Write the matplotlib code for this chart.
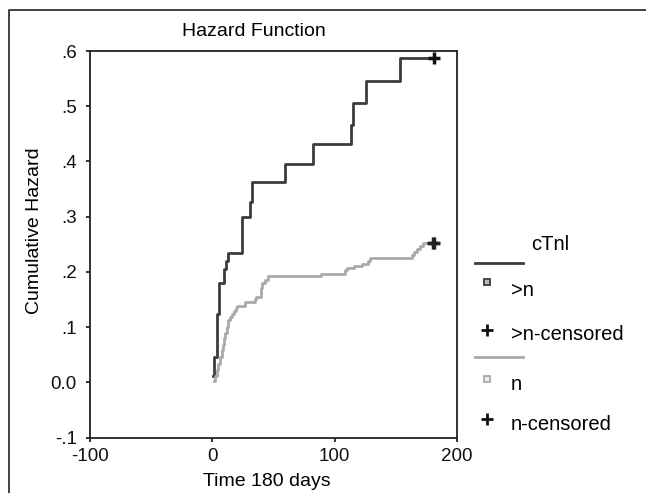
import matplotlib
matplotlib.use("Agg")
import matplotlib.pyplot as plt
from matplotlib.lines import Line2D

plt.rcParams['font.family'] = ['Liberation Sans', 'DejaVu Sans']

# Data: cumulative hazard step functions (time in days)
high_t = [0.8, 1.5, 3.5, 5.5, 9.5, 11.0, 13.0, 24.5, 31.0, 32.7, 59.7, 82.6, 113.0, 115.0, 126.0, 153.0, 181.0]
high_h = [0.012, 0.046, 0.124, 0.179, 0.205, 0.220, 0.235, 0.300, 0.327, 0.362, 0.395, 0.431, 0.466, 0.505, 0.546, 0.587, 0.587]
high_cens_t = [181.0]
high_cens_h = [0.587]

norm_t = [1.5, 2.2, 3.5, 5.0, 6.5, 7.5, 8.5, 9.5, 10.5, 11.8, 12.5, 14.5, 16.0, 17.5, 19.0, 20.0,
          26.7, 34.5, 35.5, 39.5, 40.5, 43.0, 45.8, 89.0, 108.5, 110.0, 116.0, 122.0, 127.0, 129.0,
          163.0, 165.0, 167.5, 170.0, 172.6, 181.0]
norm_h = [0.002, 0.012, 0.022, 0.034, 0.046, 0.058, 0.068, 0.080, 0.090, 0.100, 0.113, 0.119, 0.124, 0.130, 0.135, 0.138,
          0.145, 0.150, 0.155, 0.170, 0.180, 0.186, 0.193, 0.197, 0.203, 0.207, 0.211, 0.215, 0.219, 0.2246,
          0.230, 0.236, 0.242, 0.247, 0.252, 0.252]
norm_cens_t = [180.0, 181.0]
norm_cens_h = [0.252, 0.252]

x_ticks = [-100, 0, 100, 200]
y_ticks = [-0.1, 0.0, 0.1, 0.2, 0.3, 0.4, 0.5, 0.6]
y_ticklabels = ['-.1', '0.0', '.1', '.2', '.3', '.4', '.5', '.6']

legend_title = 'cTnl'
legend_labels = ['>n', '>n-censored', 'n', 'n-censored']

dark = '#3a3c3f'
gray = '#aaaaaa'

W, H = 646, 493
fig = plt.figure(figsize=(W / 100, H / 100), dpi=100)
ax = fig.add_axes([90 / W, 1 - 437.5 / H, (457 - 90) / W, (437.5 - 51) / H])

ax.step(high_t, high_h, where='post', color=dark, lw=2.0)
ax.step(norm_t, norm_h, where='post', color=gray, lw=2.0)
ax.plot(high_cens_t, high_cens_h, ls='none', marker='+', ms=9, mew=2.5, color='#111111')
ax.plot(norm_cens_t, norm_cens_h, ls='none', marker='+', ms=9, mew=2.5, color='#222222')

ax.set_xlim(-100, 200)
ax.set_ylim(-0.1, 0.6)
ax.set_xticks(x_ticks)
ax.set_xticklabels([str(v) for v in x_ticks])
ax.set_yticks(y_ticks)
ax.set_yticklabels(y_ticklabels)
ax.tick_params(direction='out', length=3, width=1.2, labelsize=13.5, colors='#111111')
ax.tick_params(axis='y', pad=6.5)
ax.tick_params(axis='x', pad=4.5)
for s in ax.spines.values():
    s.set_linewidth(1.3)
    s.set_color('#222222')

# titles / labels
fig.text(254 / W, 1 - 31 / H, 'Hazard Function', ha='center', va='center', fontsize=14)
fig.text(35 / W, 1 - 231 / H, 'Cumulative Hazard', ha='center', va='center', rotation=90, fontsize=14)
fig.text(267 / W, 1 - 481 / H, 'Time 180 days', ha='center', va='center', fontsize=14)

# outer frame (left and top edges)
fig.add_artist(Line2D([9 / W, 9 / W, 1.0], [0.0, 1 - 10 / H, 1 - 10 / H], transform=fig.transFigure,
                      color='#333333', lw=1.3))

# manual legend
def fx(px):
    return px / W

def fy(py):
    return 1 - py / H

lfs = 14.5
fig.text(fx(550), fy(245), legend_title, ha='center', va='center', fontsize=lfs)
fig.add_artist(Line2D([fx(475), fx(523)], [fy(263), fy(263)], transform=fig.transFigure, color=dark, lw=2.0))
fig.add_artist(Line2D([fx(487)], [fy(282)], transform=fig.transFigure, ls='none', marker='s', ms=5,
                      mfc='#bbbbbb', mec=dark, mew=1.3))
fig.text(fx(511), fy(290), legend_labels[0], ha='left', va='center', fontsize=lfs)
fig.add_artist(Line2D([fx(487)], [fy(330)], transform=fig.transFigure, ls='none', marker='+', ms=8,
                      mew=2.0, color='#111111'))
fig.text(fx(511), fy(335), legend_labels[1], ha='left', va='center', fontsize=lfs)
fig.add_artist(Line2D([fx(475), fx(523)], [fy(357), fy(357)], transform=fig.transFigure, color=gray, lw=2.0))
fig.add_artist(Line2D([fx(487)], [fy(379)], transform=fig.transFigure, ls='none', marker='s', ms=5,
                      mfc='#eeeeee', mec=gray, mew=1.3))
fig.text(fx(511), fy(384), legend_labels[2], ha='left', va='center', fontsize=lfs)
fig.add_artist(Line2D([fx(487)], [fy(419)], transform=fig.transFigure, ls='none', marker='+', ms=8,
                      mew=2.0, color='#111111'))
fig.text(fx(511), fy(425), legend_labels[3], ha='left', va='center', fontsize=lfs)

fig.savefig('out.png', dpi=100)
